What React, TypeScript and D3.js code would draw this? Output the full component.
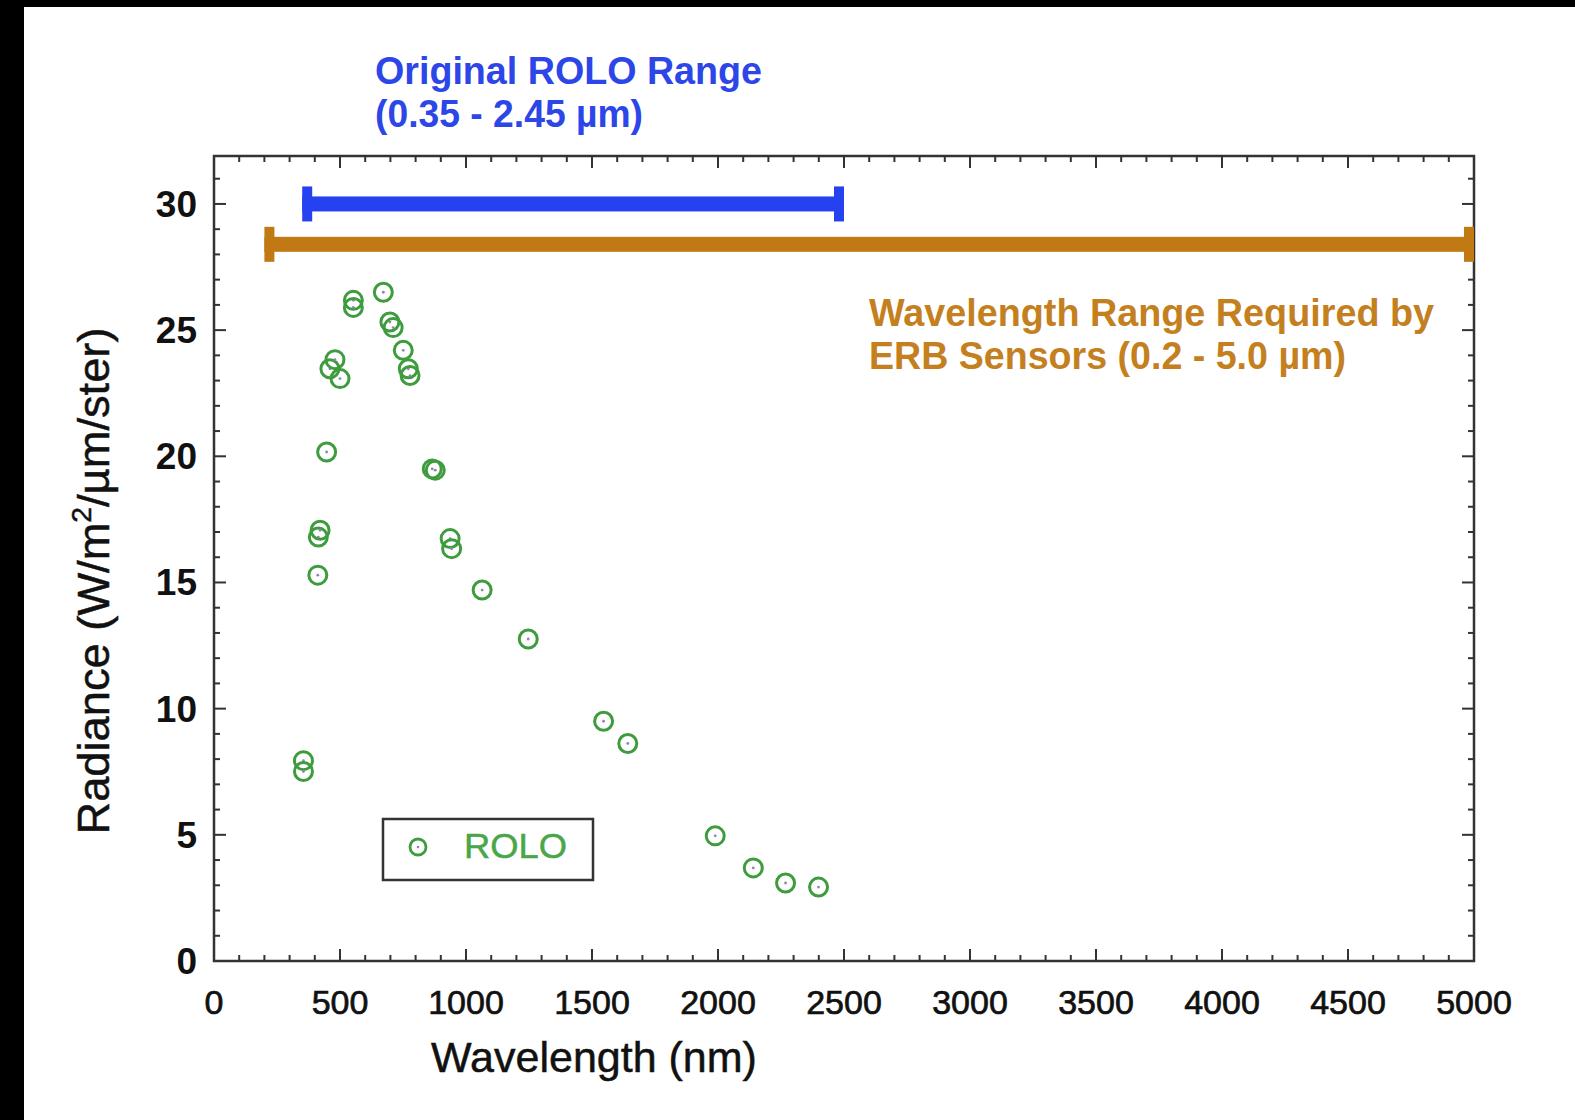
import * as React from 'react';
import { useRef, useEffect } from 'react';
import * as d3 from 'd3';

// ROLO lunar radiance samples (nm, W/m2/um/ster)
const wavelengths = [355, 355, 412, 414, 421, 447, 460, 480, 500, 553, 553, 672, 698, 711, 751, 771, 778, 866, 878, 937, 943, 1064, 1247, 1546, 1642, 1989, 2140, 2268, 2399];
const radiance = [7.94, 7.51, 15.29, 16.8, 17.07, 20.17, 23.47, 23.83, 23.08, 26.18, 25.9, 26.5, 25.32, 25.1, 24.2, 23.47, 23.2, 19.5, 19.45, 16.74, 16.34, 14.7, 12.76, 9.5, 8.62, 4.96, 3.69, 3.09, 2.93];

const xTicks = [0, 500, 1000, 1500, 2000, 2500, 3000, 3500, 4000, 4500, 5000];
const yTicks = [0, 5, 10, 15, 20, 25, 30];

// range bars: [from, to] in nm, drawn at a radiance level
const roloRange = [350, 2500];
const erbRange = [200, 5000];
const roloLevel = 30;
const erbLevel = 28.4;

const FONT = '"Liberation Sans", Arial, Helvetica, sans-serif';

const RadianceChart = ({ width, height }) => {
  const svgRef = useRef();

  useEffect(() => {
    const svg = d3.select(svgRef.current)
      .attr('width', width)
      .attr('height', height);
    svg.selectAll('*').remove();

    const left = 214, right = 1474, top = 156, bottom = 961;
    const x = d3.scaleLinear().domain([0, 5000]).range([left, right]);
    const y = d3.scaleLinear().domain([0, 31.9]).range([bottom, top]);

    svg.append('rect').attr('width', width).attr('height', height).attr('fill', '#fff');
    // black borders of the original scan
    svg.append('rect').attr('x', 0).attr('y', 0).attr('width', width).attr('height', 7).attr('fill', '#000');
    svg.append('rect').attr('x', 0).attr('y', 0).attr('width', 24).attr('height', height).attr('fill', '#000');

    const axisColor = '#333';

    // minor / major ticks on all four sides
    const g = svg.append('g').attr('stroke', axisColor).attr('stroke-width', 2);
    d3.range(0, 5001, 100).forEach(v => {
      const len = v % 500 === 0 ? 12 : 6;
      g.append('line').attr('x1', x(v)).attr('x2', x(v)).attr('y1', bottom).attr('y2', bottom - len);
      g.append('line').attr('x1', x(v)).attr('x2', x(v)).attr('y1', top).attr('y2', top + len);
    });
    d3.range(0, 32, 1).forEach(v => {
      const len = v % 5 === 0 ? 12 : 6;
      g.append('line').attr('y1', y(v)).attr('y2', y(v)).attr('x1', left).attr('x2', left + len);
      g.append('line').attr('y1', y(v)).attr('y2', y(v)).attr('x1', right).attr('x2', right - len);
    });

    svg.append('rect')
      .attr('x', left).attr('y', top)
      .attr('width', right - left).attr('height', bottom - top)
      .attr('fill', 'none').attr('stroke', axisColor).attr('stroke-width', 2.5);

    // tick labels
    svg.append('g').selectAll('text').data(xTicks).join('text')
      .attr('x', d => x(d)).attr('y', 1014)
      .attr('text-anchor', 'middle')
      .attr('font-family', FONT).attr('font-size', 34).attr('fill', '#111')
      .attr('stroke', '#111').attr('stroke-width', 0.7)
      .text(d => d);

    svg.append('g').selectAll('text').data(yTicks).join('text')
      .attr('x', 197).attr('y', d => y(d) + 13)
      .attr('text-anchor', 'end')
      .attr('font-family', FONT).attr('font-size', 37).attr('font-weight', 'bold').attr('fill', '#111')
      .text(d => d);

    // axis titles
    svg.append('text')
      .attr('x', 594).attr('y', 1072)
      .attr('text-anchor', 'middle')
      .attr('font-family', FONT).attr('font-size', 43).attr('fill', '#111')
      .attr('stroke', '#111').attr('stroke-width', 0.5)
      .text('Wavelength (nm)');

    const yt = svg.append('text')
      .attr('transform', 'translate(109,581) rotate(-90)')
      .attr('text-anchor', 'middle')
      .attr('font-family', FONT).attr('font-size', 45).attr('fill', '#111')
      .attr('stroke', '#111').attr('stroke-width', 0.5)
      .attr('textLength', 507).attr('lengthAdjust', 'spacingAndGlyphs');
    yt.append('tspan').text('Radiance (W/m');
    yt.append('tspan').attr('dy', -18).attr('font-size', 28).text('2');
    yt.append('tspan').attr('dy', 18).text('/µm/ster)');

    // range bars with end caps
    const drawRange = (range, level, color) => {
      const cy = y(level);
      svg.append('rect')
        .attr('x', x(range[0])).attr('y', cy - 7.5)
        .attr('width', x(range[1]) - x(range[0])).attr('height', 15)
        .attr('fill', color);
      svg.append('rect')
        .attr('x', x(range[0])).attr('y', cy - 17.5)
        .attr('width', 10).attr('height', 35).attr('fill', color);
      svg.append('rect')
        .attr('x', x(range[1]) - 10).attr('y', cy - 17.5)
        .attr('width', 10).attr('height', 35).attr('fill', color);
    };
    drawRange(roloRange, roloLevel, '#2541f0');
    drawRange(erbRange, erbLevel, '#c17914');

    // annotations
    const label = (parent, tx, ty, len, str) =>
      parent.append('text').attr('x', tx).attr('y', ty)
        .attr('textLength', len).attr('lengthAdjust', 'spacingAndGlyphs').text(str);

    const blue = svg.append('g').attr('font-family', FONT).attr('font-size', 38)
      .attr('font-weight', 'bold').attr('fill', '#2c46e8');
    label(blue, 375, 84, 387, 'Original ROLO Range');
    label(blue, 375, 127, 268, '(0.35 - 2.45 µm)');

    const orange = svg.append('g').attr('font-family', FONT).attr('font-size', 38)
      .attr('font-weight', 'bold').attr('fill', '#c4801e');
    label(orange, 869, 326, 565, 'Wavelength Range Required by');
    label(orange, 869, 369, 477, 'ERB Sensors (0.2 - 5.0 µm)');

    // data points
    const green = '#3e9c3e';
    const pts = svg.append('g');
    wavelengths.forEach((w, i) => {
      pts.append('circle')
        .attr('cx', x(w)).attr('cy', y(radiance[i])).attr('r', 9)
        .attr('fill', 'none').attr('stroke', green).attr('stroke-width', 3);
      pts.append('circle')
        .attr('cx', x(w)).attr('cy', y(radiance[i])).attr('r', 1.4)
        .attr('fill', '#8a8aa6');
    });

    // legend
    svg.append('rect')
      .attr('x', 383).attr('y', 819).attr('width', 210).attr('height', 61)
      .attr('fill', '#fff').attr('stroke', '#333').attr('stroke-width', 2.5);
    svg.append('circle').attr('cx', 418).attr('cy', 847).attr('r', 8)
      .attr('fill', 'none').attr('stroke', green).attr('stroke-width', 2.8);
    svg.append('circle').attr('cx', 418).attr('cy', 847).attr('r', 1.3).attr('fill', '#8a8aa6');
    svg.append('text')
      .attr('x', 464).attr('y', 858)
      .attr('font-family', FONT).attr('font-size', 35).attr('fill', '#4aa64a')
      .attr('stroke', '#4aa64a').attr('stroke-width', 0.5)
      .attr('textLength', 103).attr('lengthAdjust', 'spacingAndGlyphs')
      .text('ROLO');
  }, [width, height]);

  return (
    <svg ref={svgRef} style={{ position: 'absolute', left: 0, top: 0, display: 'block' }}></svg>
  );
};

export default function App() {
  return <RadianceChart width={1575} height={1120} />;
}
